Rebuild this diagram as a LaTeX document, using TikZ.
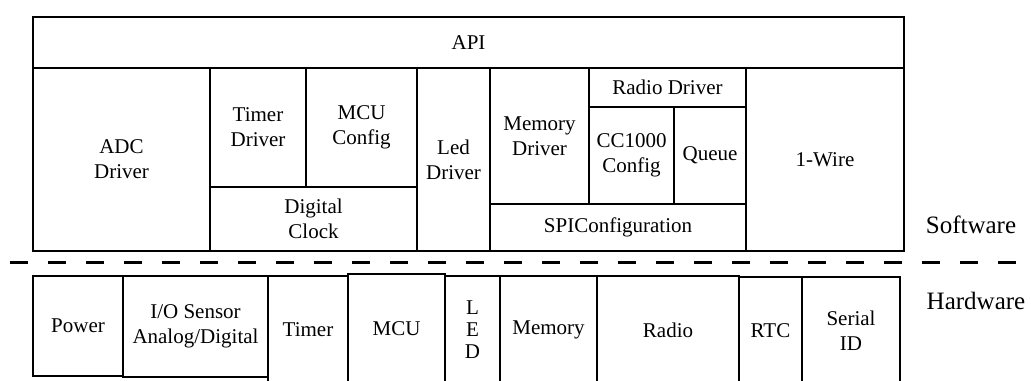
\documentclass[tikz,border=0pt]{standalone}
\usepackage{fontspec}
\setmainfont{Liberation Serif}
\usetikzlibrary{fit}

\begin{document}
\begin{tikzpicture}[x=0.5pt, y=-0.5pt,
    blk/.style={
        draw, line width=0.8pt, inner sep=0pt,
        label={[blktext]center:#1}
    },
    blktext/.style={
        align=center, inner sep=0pt, font=\fontsize{10.5}{12.5}\selectfont
    },
    layerlabel/.style={
        font=\fontsize{12.5}{15}\selectfont
    },
    divider/.style={
        line width=1.5pt, dash pattern=on 9pt off 10pt
    }
]
\clip (0,0) rectangle (1031,380);

% Software layer
\node[blk={API}, fit={(33,17) (904,68)}] (api) {};
\node[blk={ADC\\Driver}, fit={(33,68) (210,251)}] (adc) {};
\node[blk={Timer\\Driver}, fit={(210,68) (306,187)}] (timerdrv) {};
\node[blk={MCU\\Config}, fit={(306,68) (417,187)}] (mcucfg) {};
\node[blk={Digital\\Clock}, fit={(210,187) (417,251)}] (dclock) {};
\node[blk={Led\\Driver}, fit={(417,68) (490,251)}] (leddrv) {};
\node[blk={Memory\\Driver}, fit={(490,68) (589,204)}] (memdrv) {};
\node[blk={Radio Driver}, fit={(589,68) (746,107)}] (radiodrv) {};
\node[blk={CC1000\\Config}, fit={(589,107) (674,204)}] (cc1000) {};
\node[blk={Queue}, fit={(674,107) (746,204)}] (queue) {};
\node[blk={SPIConfiguration}, fit={(490,204) (746,251)}] (spi) {};
\node[blk={1-Wire}, fit={(746,68) (904,251)}] (onewire) {};
\node[layerlabel] (sw) at (971,225) {Software};

% Divider
\coordinate (divL) at (10,262);
\coordinate (divR) at (1031,262);
\draw[divider] (divL) -- (divR);

% Hardware layer
\node[blk={Power}, fit={(33,276) (123,376)}] (power) {};
\node[blk={I/O Sensor\\Analog/Digital}, fit={(123,276) (268,377)}] (iosensor) {};
\node[blk={Timer}, fit={(268,276) (348,384)}] (timer) {};
\node[blk={MCU}, fit={(348,274) (445,384)}] (mcu) {};
\node[blk={L\\[-1.5pt]E\\[-1.5pt]D}, fit={(445,276) (500,384)}] (led) {};
\node[blk={Memory}, fit={(500,276) (597,384)}] (memory) {};
\node[blk={Radio}, fit={(597,276) (739,384)}] (radio) {};
\node[blk={RTC}, fit={(739,277) (802,384)}] (rtc) {};
\node[blk={Serial\\ID}, fit={(802,277) (900,384)}] (serialid) {};
\node[layerlabel] (hw) at (976,301) {Hardware};

\end{tikzpicture}
\end{document}
